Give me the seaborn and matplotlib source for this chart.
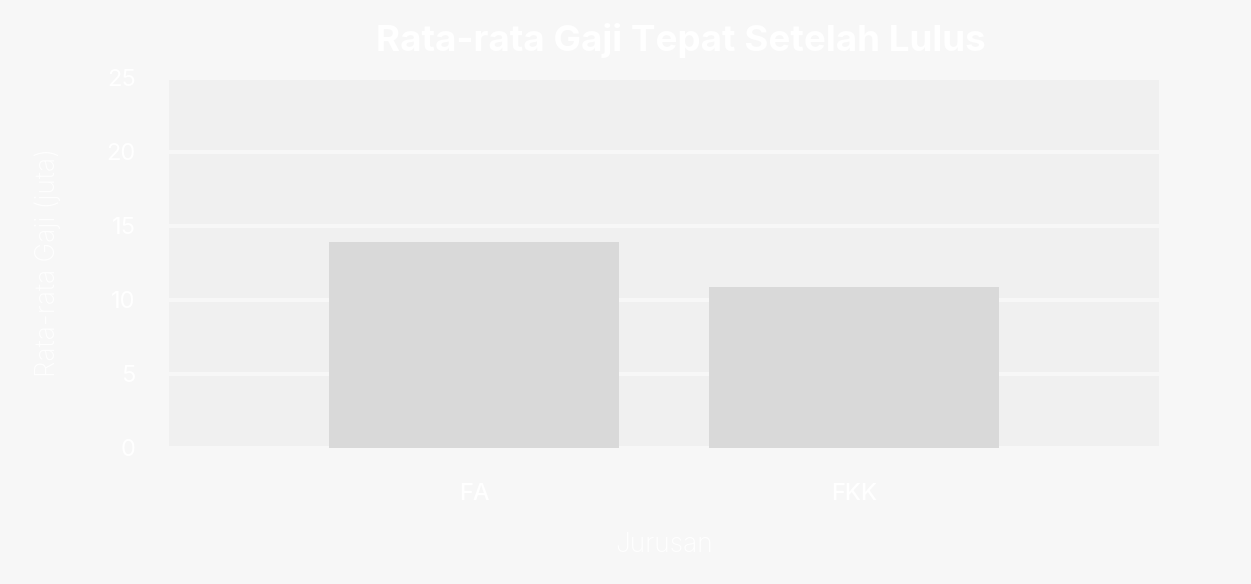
import numpy as np
import pandas as pd
import seaborn as sns
import matplotlib.pyplot as plt

#--Data
jurusan = ['FA', 'FKK']
gaji = [13.9, 10.9]
yticks = [0, 5, 10, 15, 20, 25]

df = pd.DataFrame({'Jurusan': jurusan, 'Gaji': gaji})

#--Style
sns.set_style('white')
plt.rcParams['font.family'] = ['Inter', 'DejaVu Sans']
bg = '#f7f7f7'

fig = plt.figure(figsize=(12.51, 5.84), dpi=100, facecolor=bg)
ax = fig.add_axes([169 / 1251, 1 - 448 / 584, 990 / 1251, 370 / 584])
ax.set_facecolor('#f0f0f0')

sns.barplot(data=df, x='Jurusan', y='Gaji', color='#d9d9d9', width=0.763,
            saturation=1, ax=ax, zorder=3, linewidth=0, edgecolor='none')

ax.set_xlim(-0.803, 1.803)
ax.set_ylim(0, 25)
ax.set_yticks(yticks)
ax.set_axisbelow(True)
ax.yaxis.grid(True, color=bg, linewidth=3)
ax.xaxis.grid(False)
for s in ax.spines.values():
    s.set_visible(False)

ax.tick_params(axis='y', length=0, pad=24, labelsize=17, labelcolor='white')
ax.tick_params(axis='x', length=0, pad=25, labelsize=17, labelcolor='white')
for t in ax.get_xticklabels():
    t.set_fontweight('medium')

ax.set_xlabel('Jurusan', color='white', fontsize=19, fontweight='light', labelpad=20)
ax.set_ylabel('Rata-rata Gaji (juta)', color='white', fontsize=19, fontweight='light', labelpad=33)

fig.text(681 / 1251, 1 - 41 / 584, 'Rata-rata Gaji Tepat Setelah Lulus', color='white',
         fontsize=26.5, fontweight='bold', ha='center', va='center')

plt.savefig('out.png', dpi=100, facecolor=bg)
